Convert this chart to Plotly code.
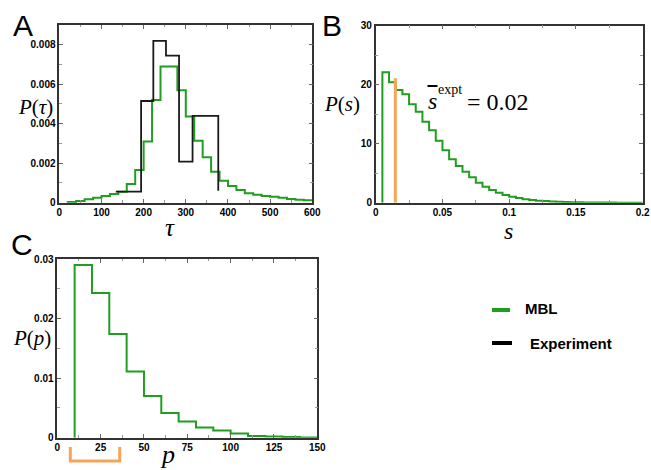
import plotly.graph_objects as go

W, H = 651, 470

GREEN = "#1f9e1f"
BLACK = "#1a1a1a"
ORANGE = "#f6a558"

# ---- panel A: P(tau) ----
tau_edges_mbl = list(range(20, 620, 20))
p_tau_mbl = [0.00003, 0.00009, 0.00017, 0.00025, 0.00034, 0.00044, 0.00056,
             0.00095, 0.00166, 0.0031, 0.0052, 0.0069, 0.0069, 0.0057,
             0.00436, 0.00314, 0.0023, 0.00157, 0.00111, 0.00085, 0.00064,
             0.00048, 0.0004, 0.00034, 0.0003, 0.00025, 0.00019, 0.00015,
             0.00012]
tau_edges_expt = [134, 194, 223, 253, 284, 316, 377]
p_tau_expt = [0.00056, 0.00515, 0.0082, 0.00745, 0.00208, 0.0044]
p_tau_expt_end = 0.0006

# ---- panel B: P(s) ----
s_edges = [round(0.005 * k, 3) for k in range(1, 41)]
p_s_mbl = [22.1, 20.4, 19.1, 18.4, 16.7, 15.4, 13.7, 12.3, 10.5, 8.9,
           7.35, 6.2, 5.25, 4.3, 3.4, 2.7, 2.15, 1.7, 1.3, 1.0,
           0.8, 0.6, 0.45, 0.35, 0.27, 0.2, 0.15, 0.12, 0.09, 0.07,
           0.05, 0.04, 0.03, 0.02, 0.015, 0.01, 0.01, 0.005, 0.005]
s_expt_x = 0.0147
s_expt_top = 21.1

# ---- panel C: P(p) ----
p_edges = list(range(10, 160, 10))
p_p_mbl = [0.029, 0.0243, 0.0174, 0.0111, 0.0070, 0.00415, 0.0027, 0.0017,
           0.0012, 0.0007, 0.0003, 0.0002, 0.0001, 0.00005]
p_expt_range = [7.5, 36]


def step_xy(edges, values, base=None, end=None):
    xs = list(edges)
    ys = list(values) + [values[-1] if end is None else end]
    if base is not None:
        xs = [edges[0]] + xs
        ys = [base] + ys
    return xs, ys


def px(x):
    return x / W


def py(y):
    return 1 - y / H


fig = go.Figure()

x, y = step_xy(tau_edges_mbl, p_tau_mbl, base=0)
fig.add_trace(go.Scatter(x=x, y=y, mode="lines", name="MBL",
                         line=dict(shape="hv", color=GREEN, width=2),
                         xaxis="x", yaxis="y"))
x, y = step_xy(tau_edges_expt, p_tau_expt, end=p_tau_expt_end)
fig.add_trace(go.Scatter(x=x, y=y, mode="lines", name="Experiment",
                         line=dict(shape="hv", color=BLACK, width=1.8),
                         xaxis="x", yaxis="y"))

x, y = step_xy(s_edges, p_s_mbl, base=0)
fig.add_trace(go.Scatter(x=x, y=y, mode="lines",
                         line=dict(shape="hv", color=GREEN, width=2),
                         xaxis="x2", yaxis="y2"))
fig.add_trace(go.Scatter(x=[s_expt_x, s_expt_x], y=[0, s_expt_top], mode="lines",
                         line=dict(color=ORANGE, width=3),
                         xaxis="x2", yaxis="y2"))

x, y = step_xy(p_edges, p_p_mbl, base=0)
fig.add_trace(go.Scatter(x=x, y=y, mode="lines",
                         line=dict(shape="hv", color=GREEN, width=2),
                         xaxis="x3", yaxis="y3"))

tickfont = dict(family="Liberation Sans", size=10, color="black", weight="bold")


def ax(rng, dtick, minor, domain, anchor):
    return dict(range=rng, dtick=dtick, domain=domain, anchor=anchor,
                automargin=False,
                showline=True, linecolor="#333", linewidth=1.5, mirror="ticks",
                ticks="inside", ticklen=4, tickwidth=1, tickcolor="#666",
                minor=dict(ticks="inside", ticklen=2.5, tickcolor="#999", dtick=minor),
                showgrid=False, zeroline=False, tickfont=tickfont)


fig.update_layout(
    width=W, height=H,
    margin=dict(l=0, r=0, t=0, b=0),
    paper_bgcolor="white", plot_bgcolor="white",
    showlegend=False,
    xaxis=ax([0, 600], 100, 50, [px(59.3), px(312.3)], "y"),
    yaxis=ax([0, 0.009], 0.002, 0.001, [py(202.7), py(25)], "x"),
    xaxis2=ax([0, 0.2], 0.05, 0.025, [px(375.7), px(642.7)], "y2"),
    yaxis2=ax([0, 30], 10, 5, [py(202.7), py(25.7)], "x2"),
    xaxis3=ax([0, 150], 25, 12.5, [px(57.3), px(317.3)], "y3"),
    yaxis3=ax([0, 0.03], 0.01, 0.005, [py(437.7), py(259)], "x3"),
)

serif = "Liberation Serif"
ann = []


def label(text, x, y, size, family=serif, anchor="center", color="black", vanchor="middle"):
    ann.append(dict(text=text, x=px(x), y=py(y), xref="paper", yref="paper",
                    showarrow=False, xanchor=anchor, yanchor=vanchor,
                    font=dict(family=family, size=size, color=color)))


# panel letters
label("A", 22.5, 25, 30, family="Liberation Sans")
label("B", 332, 25, 30, family="Liberation Sans")
label("C", 21.5, 244, 30, family="Liberation Sans")

# axis titles
label("<i>P</i>(<i>τ</i>)", 35, 107, 21)
label("<i>P</i>(<i>s</i>)", 342, 104, 21)
label("<i>P</i>(<i>p</i>)", 32, 338, 21)
label("<i>τ</i>", 170, 227, 25)
label("<i>s</i>", 508, 216, 24, vanchor="top")
label("<i>p</i>", 167, 454, 26)

# s-bar expt annotation
label("<i>s</i>", 432.5, 101, 24)
label("expt", 450, 89, 14)
label("= 0.02", 498, 102, 24)

# legend
label("<b>MBL</b>", 523, 308, 15, family="Liberation Sans", anchor="left")
label("<b>Experiment</b>", 528, 343, 15, family="Liberation Sans", anchor="left")

shapes = [
    dict(type="line", xref="paper", yref="paper", x0=px(427.5), x1=px(437.5),
         y0=py(86), y1=py(86), line=dict(color="black", width=2)),
    dict(type="line", xref="paper", yref="paper", x0=px(492), x1=px(510),
         y0=py(310), y1=py(310), line=dict(color=GREEN, width=4)),
    dict(type="line", xref="paper", yref="paper", x0=px(492), x1=px(512),
         y0=py(343), y1=py(343), line=dict(color="black", width=4)),
    # orange bracket under panel C
    dict(type="path", xref="x3", yref="paper",
         path=f"M {p_expt_range[0]},{py(447)} L {p_expt_range[0]},{py(461)} "
              f"L {p_expt_range[1]},{py(461)} L {p_expt_range[1]},{py(447)}",
         line=dict(color=ORANGE, width=3)),
]

fig.update_layout(annotations=ann, shapes=shapes)

# the page has a default 8px body margin; drop it so the figure sits at 0,0
fig.write_html("out.html", config={"displayModeBar": False},
               post_script="document.body.style.margin='0px';")
